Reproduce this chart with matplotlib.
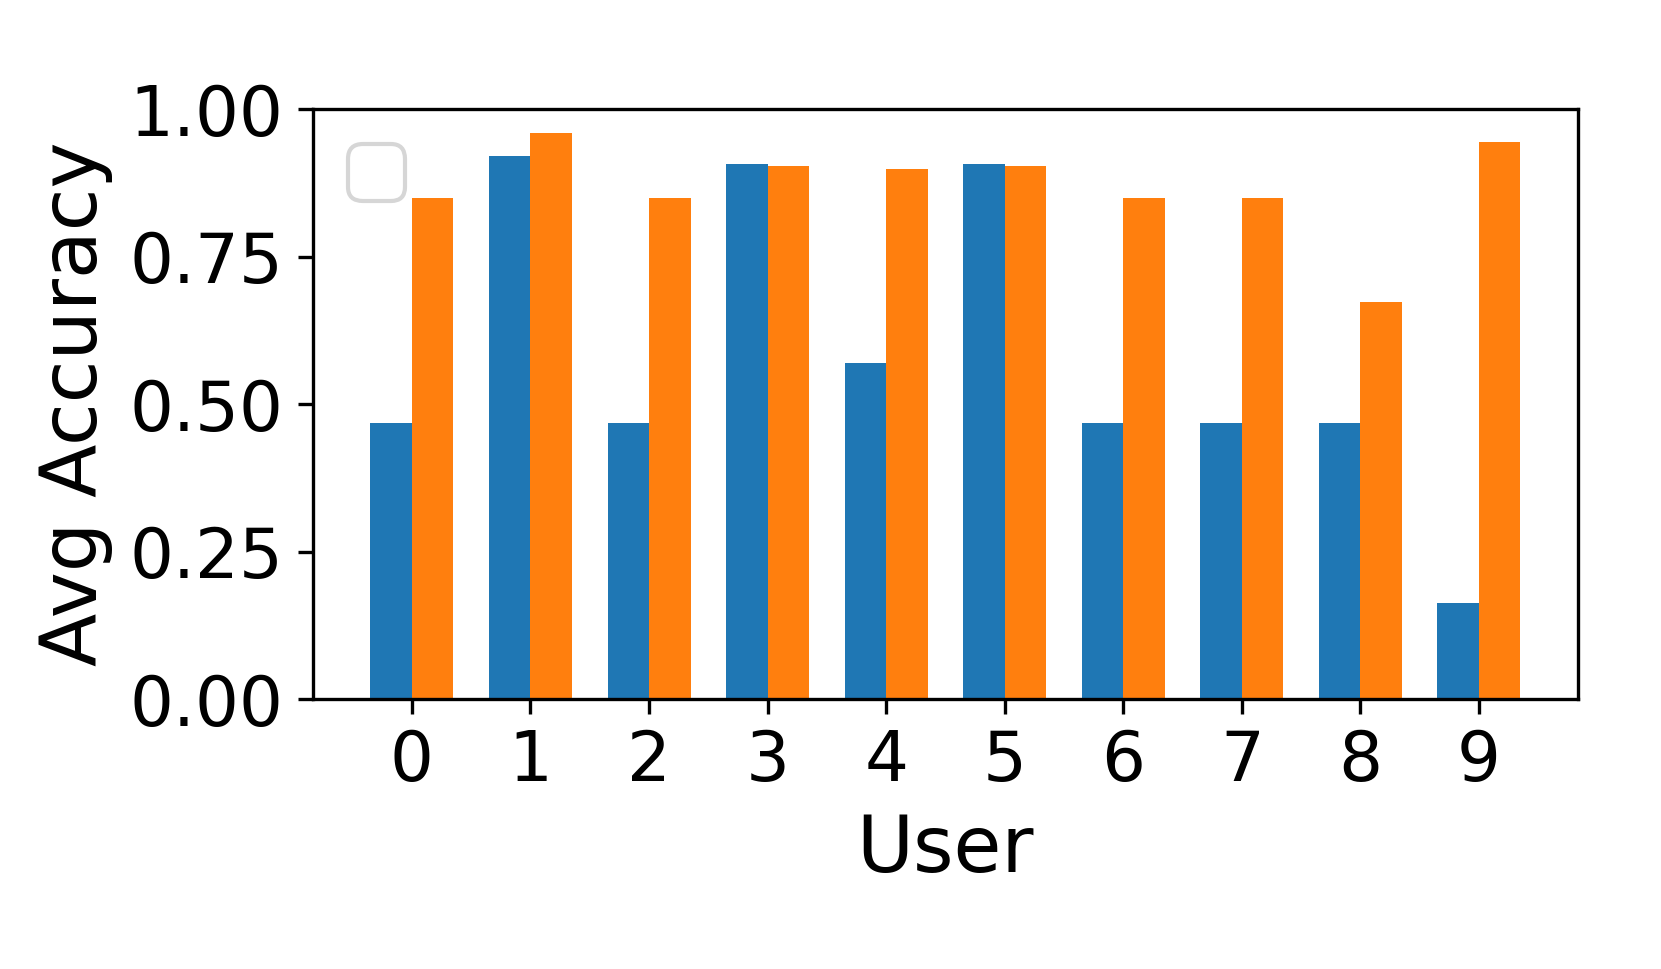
import numpy as np
import matplotlib.pyplot as plt

# data
users = [0, 1, 2, 3, 4, 5, 6, 7, 8, 9]
acc_blue = [0.467, 0.921, 0.467, 0.907, 0.569, 0.907, 0.467, 0.467, 0.467, 0.162]
acc_orange = [0.849, 0.959, 0.849, 0.903, 0.898, 0.903, 0.849, 0.849, 0.673, 0.944]
yticks = [0.0, 0.25, 0.5, 0.75, 1.0]

width = 0.35
x = np.arange(len(users))

fig = plt.figure(figsize=(1661 / 300, 969 / 300), dpi=300)
ax = fig.add_axes([0.1884, 0.2786, 0.7616, 0.6089])

ax.bar(x - width / 2, acc_blue, width, color="#1f77b4")
ax.bar(x + width / 2, acc_orange, width, color="#ff7f0e")

ax.set_xticks(x)
ax.set_xticklabels([str(u) for u in users])
ax.set_yticks(yticks)
ax.set_ylim(0, 1)
ax.tick_params(labelsize=16.6)
ax.set_xlabel("User", fontsize=18.7)
ax.set_ylabel("Avg Accuracy", fontsize=18.7)

# empty legend box (no labelled artists)
ax.legend(loc="upper left", fontsize=17)

fig.savefig("out.png", dpi=300)
